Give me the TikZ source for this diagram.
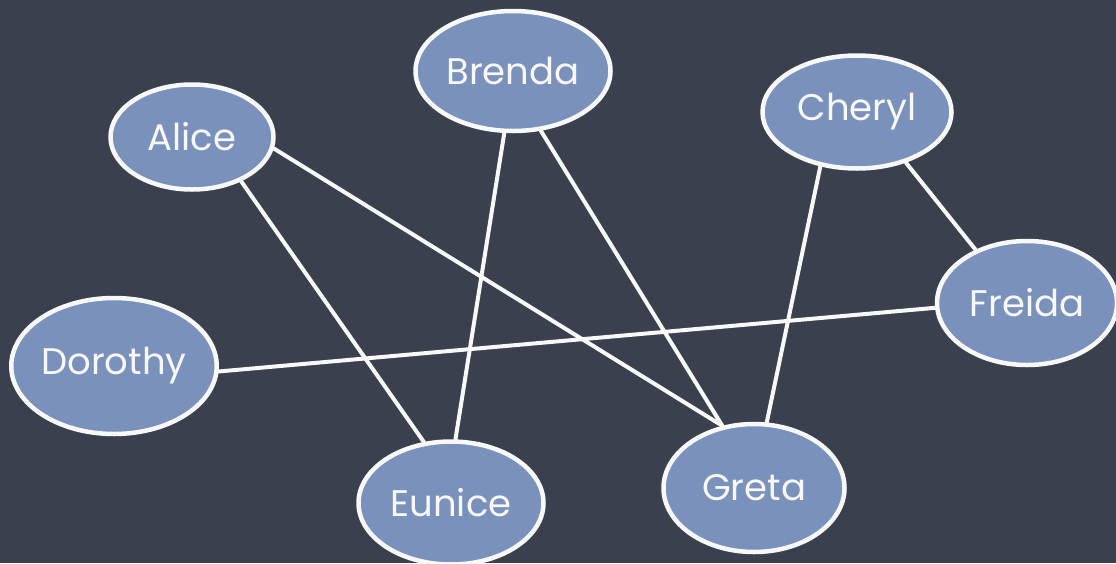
\documentclass[tikz,border=0pt]{standalone}
\usepackage{fontspec}
\newfontfamily\chalkfont{Poppins}
\usepackage{tikz}
\usetikzlibrary{shapes.geometric}

\definecolor{board}{RGB}{58,64,78}
\definecolor{person}{RGB}{122,145,188}
\definecolor{chalk}{RGB}{248,248,248}

\begin{document}
\begin{tikzpicture}[x=1pt,y=-1pt,line cap=round,line join=round,
  person/.style={ellipse,draw=chalk,line width=4.5pt,fill=person,inner sep=0pt,
    font=\chalkfont\fontsize{37}{42}\selectfont,text=chalk},
  link/.style={draw=chalk,line width=4pt}]
% board
\fill[board] (0,0) rectangle (1116,563);
\useasboundingbox (0,0) rectangle (1116,563);
% people
\node[person,minimum width=163pt,minimum height=105pt] (alice) at (192,137) {Alice};
\node[person,minimum width=195pt,minimum height=120pt] (brenda) at (513,71) {Brenda};
\node[person,minimum width=189pt,minimum height=113pt] (cheryl) at (857,112) {Cheryl};
\node[person,minimum width=203pt,minimum height=136pt] (dorothy) at (114,366) {Dorothy};
\node[person,minimum width=185pt,minimum height=123pt] (eunice) at (451,503) {Eunice};
\node[person,minimum width=181pt,minimum height=128pt] (greta) at (754,488) {Greta};
\node[person,minimum width=180pt,minimum height=124pt] (freida) at (1027,303) {Freida};
% links
\draw[link] (alice.-42) -- (eunice.114);
\draw[link] (alice.-8) -- (greta.117);
\draw[link] (brenda.262) -- (eunice.86);
\draw[link] (brenda.-65) -- (greta.117);
\draw[link] (cheryl.236) -- (greta.79);
\draw[link] (cheryl.-46) -- (freida.134);
\draw[link] (dorothy.-3) -- (freida.183);
\end{tikzpicture}
\end{document}
